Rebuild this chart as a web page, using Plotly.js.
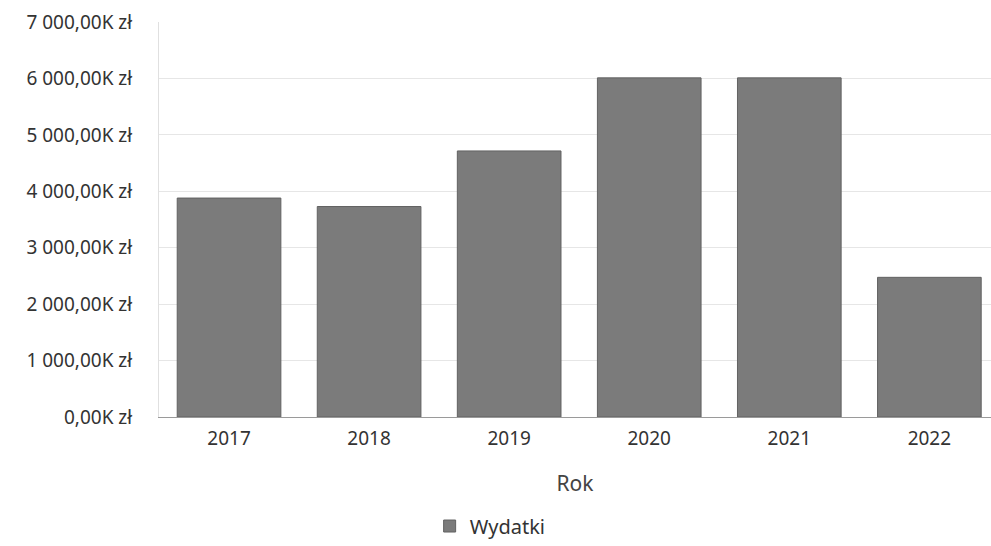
<!DOCTYPE html>
<html>
<head>
<meta charset="utf-8">
<script src="https://cdn.plot.ly/plotly-3.0.1.min.js"></script>
<style>html,body{margin:0;padding:0;background:#fff;}#chart{width:991px;height:546px;}</style>
</head>
<body>
<div id="chart"></div>
<script>
const years = ["2017", "2018", "2019", "2020", "2021", "2022"];
const wydatki = [3880, 3730, 4715, 6010, 6010, 2475];
const yTicks = [0, 1000, 2000, 3000, 4000, 5000, 6000, 7000];
const yTickLabels = ["0,00K zł", "1 000,00K zł", "2 000,00K zł", "3 000,00K zł",
                     "4 000,00K zł", "5 000,00K zł", "6 000,00K zł", "7 000,00K zł"];
const seriesName = "Wydatki";

const trace = {
  type: "bar",
  x: years,
  y: wydatki,
  name: seriesName,
  width: 0.74,
  marker: { color: "#7b7b7b", line: { color: "#626262", width: 1 } },
  showlegend: true
};

const layout = {
  width: 991,
  height: 546,
  margin: { l: 159, r: 0, t: 22, b: 126 },
  paper_bgcolor: "#ffffff",
  plot_bgcolor: "#ffffff",
  font: { family: "Noto Sans, Open Sans, sans-serif", color: "#333333", size: 19 },
  xaxis: {
    type: "category",
    range: [-0.5, 5.44],
    showgrid: false,
    showline: true,
    linecolor: "#9a9a9a",
    linewidth: 1,
    ticks: "",
    ticklabelstandoff: 4,
    tickfont: { size: 19, color: "#333333" },
    title: { text: "Rok", font: { size: 21, color: "#444444" }, standoff: 26 }
  },
  yaxis: {
    range: [0, 7000],
    tickmode: "array",
    tickvals: yTicks,
    ticktext: yTickLabels,
    showgrid: true,
    gridcolor: "#e6e6e6",
    gridwidth: 1,
    zeroline: false,
    showline: true,
    linecolor: "#e0e0e0",
    ticks: "",
    ticklabelstandoff: 22,
    tickfont: { size: 19, color: "#333333" }
  },
  legend: {
    orientation: "h",
    x: 0.398,
    xanchor: "center",
    y: -0.276,
    yanchor: "middle",
    font: { size: 20, color: "#333333" },
    itemwidth: 30
  },
  bargap: 0.26
};

Plotly.newPlot("chart", [trace], layout, { displayModeBar: false, staticPlot: true });
</script>
</body>
</html>
